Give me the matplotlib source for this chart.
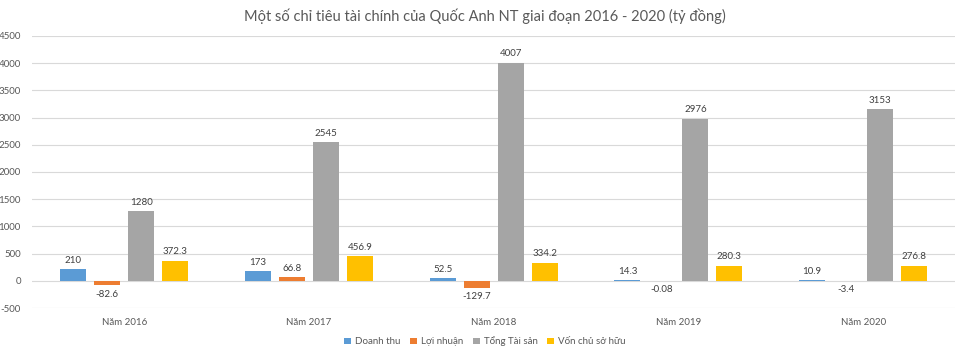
import matplotlib
matplotlib.use("Agg")
import matplotlib.pyplot as plt
import numpy as np

plt.rcParams['font.family'] = ['Lato', 'Noto Sans', 'DejaVu Sans']

categories = ["Năm 2016", "Năm 2017", "Năm 2018", "Năm 2019", "Năm 2020"]
series_names = ["Doanh thu", "Lợi nhuận", "Tổng Tài sản", "Vốn chủ sở hữu"]
doanh_thu = [210, 173, 52.5, 14.3, 10.9]
loi_nhuan = [-82.6, 66.8, -129.7, -0.08, -3.4]
tong_tai_san = [1280, 2545, 4007, 2976, 3153]
von_chu = [372.3, 456.9, 334.2, 280.3, 276.8]
labels_text = [
    ["210", "173", "52.5", "14.3", "10.9"],
    ["-82.6", "66.8", "-129.7", "-0.08", "-3.4"],
    ["1280", "2545", "4007", "2976", "3153"],
    ["372.3", "456.9", "334.2", "280.3", "276.8"],
]
yticks = [-500, 0, 500, 1000, 1500, 2000, 2500, 3000, 3500, 4000, 4500]
colors = ["#5B9BD5", "#ED7D31", "#A5A5A5", "#FFC000"]

series = [doanh_thu, loi_nhuan, tong_tai_san, von_chu]

fig = plt.figure(figsize=(9.7, 3.52), dpi=100)
ax = fig.add_axes([0.033, 0.125, 0.952, 0.773])

x = np.arange(len(categories))
width = 0.141
step = 0.184
offsets = [-1.5 * step, -0.5 * step, 0.5 * step, 1.5 * step]
txt_color = "#404040"
for i, (vals, c, name) in enumerate(zip(series, colors, series_names)):
    ax.bar(x + offsets[i], vals, width=width, color=c, label=name, zorder=3)
    for xi, v, t in zip(x + offsets[i], vals, labels_text[i]):
        if v >= 0:
            ax.text(xi, v + 80, t, ha="center", va="bottom", fontsize=7, color=txt_color)
        else:
            ax.text(xi, v - 80, t, ha="center", va="top", fontsize=7, color=txt_color)

ax.set_xlim(-0.5, len(categories) - 0.5)
ax.set_ylim(-500, 4500)
ax.set_yticks(yticks)
ax.set_yticklabels([str(t) for t in yticks], fontsize=7, color="#595959")
ax.yaxis.grid(True, color="#D9D9D9", linewidth=0.8, zorder=0)
ax.tick_params(axis="y", length=0, pad=8)
ax.set_xticks(x)
ax.set_xticklabels(categories, fontsize=7, color="#595959")
ax.tick_params(axis="x", length=0, pad=7)
for s in ax.spines.values():
    s.set_visible(False)
ax.set_axisbelow(True)

fig.text(0.5, 0.955, "Một số chỉ tiêu tài chính của Quốc Anh NT giai đoạn 2016 - 2020 (tỷ đồng)",
         ha="center", va="center", fontsize=10.5, color="#595959")

fig.legend(loc="center", bbox_to_anchor=(0.5, 0.03), ncol=4, frameon=False,
           fontsize=7, handlelength=0.7, handleheight=0.7, handletextpad=0.4,
           columnspacing=1.0, labelcolor="#595959")

fig.savefig("out.png", dpi=100)
